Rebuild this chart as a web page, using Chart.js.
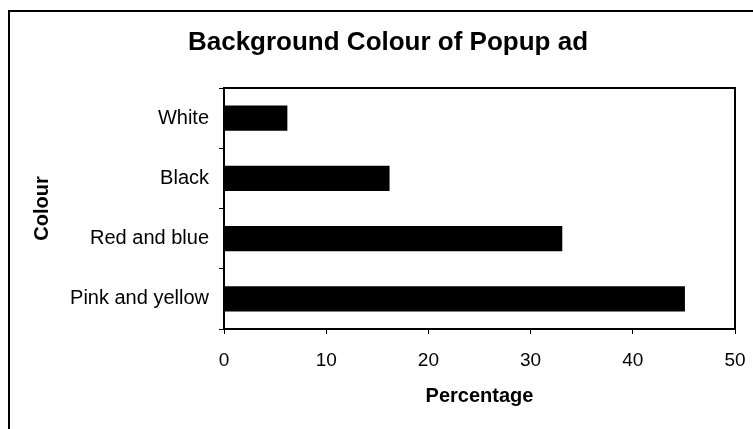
<!DOCTYPE html>
<html>
<head>
<meta charset="utf-8">
<script src="https://cdn.jsdelivr.net/npm/chart.js@4"></script>
<style>
  html, body { margin: 0; padding: 0; background: #fff; }
  #wrap { position: relative; width: 753px; height: 429px; }
</style>
</head>
<body>
<div id="wrap"><canvas id="myChart" width="753" height="429"></canvas></div>
<script>
// chart data
const colours = ["White", "Black", "Red and blue", "Pink and yellow"];
const percentages = [6.2, 16.2, 33.1, 45.1];
const xTicks = [0, 10, 20, 30, 40, 50];
const chartTitle = "Background Colour of Popup ad";

const font = "'Liberation Sans', Arial, Helvetica, sans-serif";

// outer frame, box round the plot area, and the title (sits left of centre)
const framePlugin = {
  id: "frame",
  afterDraw(chart) {
    const { ctx, chartArea } = chart;
    ctx.save();
    ctx.strokeStyle = "#000";
    ctx.lineWidth = 2;
    ctx.beginPath();
    ctx.moveTo(9, 429);
    ctx.lineTo(9, 11);
    ctx.lineTo(753, 11);
    ctx.stroke();
    ctx.strokeRect(chartArea.left, chartArea.top, chartArea.right - chartArea.left, chartArea.bottom - chartArea.top);

    ctx.fillStyle = "#000";
    ctx.font = "bold 26px " + font;
    ctx.textAlign = "center";
    ctx.textBaseline = "middle";
    ctx.fillText(chartTitle, 388, 43);
    ctx.restore();
  },
};

const ctx = document.getElementById("myChart");

new Chart(ctx, {
  type: "bar",
  data: {
    labels: colours,
    datasets: [
      {
        label: "Percentage",
        data: percentages,
        backgroundColor: "#000",
        borderWidth: 0,
        categoryPercentage: 1,
        barPercentage: 0.42,
      },
    ],
  },
  options: {
    indexAxis: "y",
    responsive: false,
    animation: false,
    layout: { padding: { left: 0, right: 18, top: 88, bottom: 0 } },
    plugins: {
      legend: { display: false },
      tooltip: { enabled: false },
      title: { display: false },
    },
    scales: {
      x: {
        min: xTicks[0],
        max: xTicks[xTicks.length - 1],
        afterBuildTicks(scale) {
          scale.ticks = xTicks.map((v) => ({ value: v }));
        },
        afterFit(scale) {
          scale.height = 100;
          scale.paddingLeft = 0;
          scale.paddingRight = 0;
        },
        border: { display: true, color: "#000", width: 2 },
        grid: { drawOnChartArea: false, drawTicks: true, tickLength: 5, color: "#000" },
        ticks: { color: "#000", padding: 15, maxRotation: 0, font: { family: font, size: 19 } },
        title: {
          display: true,
          text: "Percentage",
          color: "#000",
          font: { family: font, size: 20, weight: "bold" },
          padding: { top: 0, bottom: 21 },
        },
      },
      y: {
        afterFit(scale) {
          scale.width = 224;
        },
        border: { display: true, color: "#000", width: 2 },
        grid: { drawOnChartArea: false, drawTicks: true, tickLength: 5, color: "#000", offset: true },
        ticks: { color: "#000", padding: 10, font: { family: font, size: 20 } },
        title: {
          display: true,
          text: "Colour",
          color: "#000",
          font: { family: font, size: 20, weight: "bold" },
          padding: { top: 30, bottom: 0 },
        },
      },
    },
  },
  plugins: [framePlugin],
});
</script>
</body>
</html>
